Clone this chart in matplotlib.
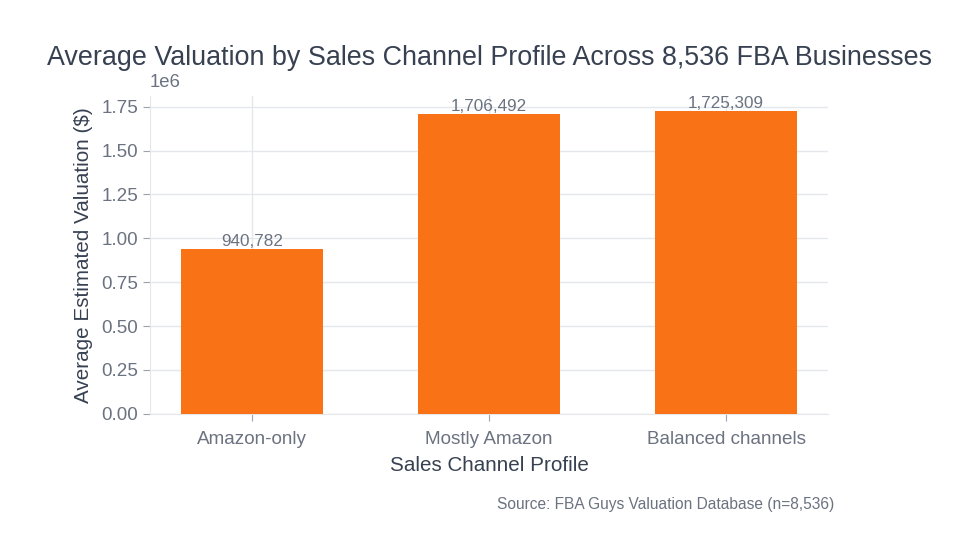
import matplotlib
matplotlib.use("Agg")
import matplotlib.pyplot as plt

# data
categories = ["Amazon-only", "Mostly Amazon", "Balanced channels"]
valuations = [940782, 1706492, 1725309]

plt.rcParams['font.family'] = ['Liberation Sans', 'DejaVu Sans']

bar_color = "#f97316"
text_dark = "#374151"
text_muted = "#6b7280"
grid_color = "#e5e7eb"

fig, ax = plt.subplots(figsize=(9.79, 5.57), dpi=100)
fig.subplots_adjust(left=0.153, right=0.846, top=0.828, bottom=0.257)

bars = ax.bar(categories, valuations, width=0.6, color=bar_color, zorder=3)

for b, v in zip(bars, valuations):
    ax.text(b.get_x() + b.get_width() / 2, v, f"{v:,}", ha="center", va="bottom",
            fontsize=12.3, color=text_muted, zorder=4)

ax.set_title("Average Valuation by Sales Channel Profile Across 8,536 FBA Businesses",
             fontsize=19.4, color=text_dark, pad=22)
ax.set_xlabel("Sales Channel Profile", fontsize=14.9, color=text_dark, labelpad=6)
ax.set_ylabel("Average Estimated Valuation ($)", fontsize=14.9, color=text_dark, labelpad=6)

ax.grid(True, color=grid_color, linewidth=1, zorder=0)
ax.set_axisbelow(True)
for s in ["top", "right"]:
    ax.spines[s].set_visible(False)
for s in ["left", "bottom"]:
    ax.spines[s].set_color(grid_color)
ax.tick_params(colors=text_muted, labelsize=13.6, length=5)
ax.tick_params(axis="both", color="#9ca3af")
ax.tick_params(axis="x", pad=7)
ax.yaxis.OFFSETTEXTPAD = 6.5
ax.yaxis.get_offset_text().set_color(text_muted)
ax.yaxis.get_offset_text().set_fontsize(13.3)

fig.text(0.852, 0.095, "Source: FBA Guys Valuation Database (n=8,536)",
         ha="right", va="center", fontsize=11.2, color=text_muted)

fig.savefig("out.png", dpi=100)
